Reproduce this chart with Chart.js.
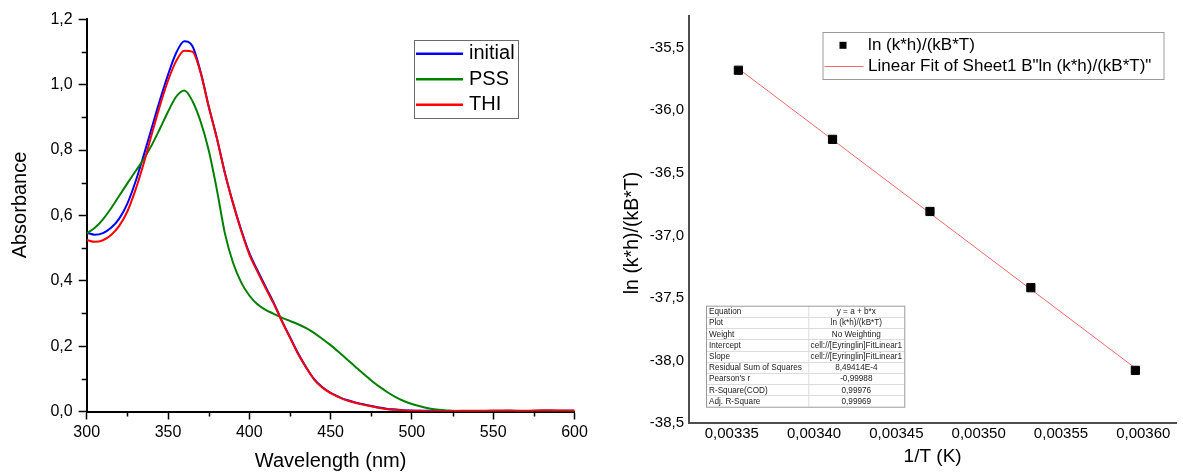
<!DOCTYPE html>
<html>
<head>
<meta charset="utf-8">
<title>Absorption spectra and Eyring plot</title>
<script src="https://cdn.jsdelivr.net/npm/chart.js@4.4.1/dist/chart.umd.min.js"></script>
<style>
  html, body { margin: 0; padding: 0; background: #fff; overflow: hidden; }
  #wrap { position: relative; width: 1183px; height: 473px; }
  canvas { position: absolute; top: 0; }
  #spec { left: 0; width: 600px; height: 473px; }
  #eyr { left: 600px; width: 583px; height: 473px; }
</style>
</head>
<body>
<div id="wrap">
  <canvas id="spec" width="600" height="473"></canvas>
  <canvas id="eyr" width="583" height="473"></canvas>
</div>
<script>
// ---------- Absorption spectra ----------
const wavelengths = [300, 305, 310, 315, 320, 325, 330, 335, 340, 345, 350, 355, 360, 365, 370, 375, 380, 385, 390, 395,
  400, 405, 410, 415, 420, 425, 430, 435, 440, 445, 450, 455, 460, 465, 470, 475, 480, 485, 490, 495,
  500, 505, 510, 515, 520, 530, 540, 550, 560, 570, 580, 590, 600];

const absInitial = [0.547, 0.541, 0.546, 0.562, 0.590, 0.636, 0.703, 0.783, 0.868, 0.952, 1.030, 1.097, 1.133, 1.118, 1.040, 0.935, 0.838, 0.730, 0.638, 0.556,
  0.485, 0.432, 0.382, 0.333, 0.278, 0.228, 0.178, 0.135, 0.098, 0.074, 0.057, 0.045, 0.035, 0.028, 0.022, 0.017, 0.012, 0.008, 0.006, 0.004,
  0.003, 0.002, 0.002, 0.001, 0.001, 0.001, 0.001, 0.001, 0.002, 0.001, 0.002, 0.002, 0.002];

const absPSS = [0.545, 0.562, 0.588, 0.622, 0.660, 0.698, 0.735, 0.772, 0.815, 0.865, 0.917, 0.963, 0.982, 0.950, 0.888, 0.800, 0.680, 0.545, 0.455, 0.395,
  0.355, 0.328, 0.311, 0.299, 0.287, 0.277, 0.267, 0.255, 0.240, 0.222, 0.203, 0.182, 0.160, 0.138, 0.116, 0.095, 0.076, 0.059, 0.044, 0.032,
  0.023, 0.016, 0.010, 0.006, 0.004, 0.001, 0.001, 0.001, 0.000, 0.001, 0.000, 0.001, 0.001];

const absTHI = [0.525, 0.519, 0.524, 0.540, 0.568, 0.612, 0.678, 0.758, 0.848, 0.935, 1.012, 1.072, 1.104, 1.101, 1.037, 0.933, 0.837, 0.729, 0.636, 0.553,
  0.481, 0.428, 0.378, 0.330, 0.276, 0.226, 0.176, 0.134, 0.097, 0.073, 0.056, 0.044, 0.034, 0.027, 0.021, 0.016, 0.011, 0.007, 0.005, 0.003,
  0.002, 0.002, 0.001, 0.001, 0.001, 0.002, 0.002, 0.003, 0.003, 0.002, 0.004, 0.003, 0.003];

const specXMajor = [300, 350, 400, 450, 500, 550, 600];
const specXMinor = [325, 375, 425, 475, 525, 575];
const specYMajor = [0, 0.2, 0.4, 0.6, 0.8, 1.0, 1.2];
const specYMinor = [0.1, 0.3, 0.5, 0.7, 0.9, 1.1];

// ---------- Eyring plot ----------
const invT = [0.003354, 0.0034112, 0.0034704, 0.0035317, 0.0035952];
const lnKhkT = [-35.680, -36.232, -36.808, -37.417, -38.077];
const fitInvT = [0.003354, 0.0035952];
const fitLn = [-35.667, -38.060];
const eyrXTicks = [0.00335, 0.00340, 0.00345, 0.00350, 0.00355, 0.00360];
const eyrYTicks = [-38.5, -38.0, -37.5, -37.0, -36.5, -36.0, -35.5];

const fitTableLabels = ['Equation', 'Plot', 'Weight', 'Intercept', 'Slope', 'Residual Sum of Squares', "Pearson's r", 'R-Square(COD)', 'Adj. R-Square'];
const fitTableValues = ['y = a + b*x', 'ln (k*h)/(kB*T)', 'No Weighting', 'cell://[Eyringlin]FitLinear1', 'cell://[Eyringlin]FitLinear1', '8,49414E-4', '-0,99988', '0,99976', '0,99969'];

const FONT = '"Liberation Sans", Arial, Helvetica, sans-serif';
Chart.defaults.font.family = FONT;
Chart.defaults.color = '#000';

const comma = (v, d) => v.toFixed(d).replace('.', ',');
const pairs = (xs, ys) => xs.map((x, i) => ({ x: x, y: ys[i] }));

// short outward minor ticks on both axes
const minorTicks = {
  id: 'minorTicks',
  afterDraw(chart, args, opts) {
    if (!opts.x) return;
    const { ctx } = chart;
    const xs = chart.scales.x, ys = chart.scales.y;
    ctx.save();
    ctx.strokeStyle = '#000';
    ctx.lineWidth = 1.5;
    ctx.beginPath();
    opts.x.forEach(v => {
      const px = Math.round(xs.getPixelForValue(v)) + 0.5;
      ctx.moveTo(px, xs.top);
      ctx.lineTo(px, xs.top + opts.len);
    });
    opts.y.forEach(v => {
      const py = Math.round(ys.getPixelForValue(v)) + 0.5;
      ctx.moveTo(ys.right, py);
      ctx.lineTo(ys.right - opts.len, py);
    });
    ctx.stroke();
    ctx.restore();
  }
};

// vertical axis title placed freely
const sideTitle = {
  id: 'sideTitle',
  afterDraw(chart, args, opts) {
    if (!opts.text) return;
    const { ctx } = chart;
    ctx.save();
    ctx.translate(opts.x, opts.y);
    ctx.rotate(-Math.PI / 2);
    ctx.font = opts.size + 'px ' + FONT;
    ctx.fillStyle = '#000';
    ctx.textAlign = 'center';
    ctx.textBaseline = 'middle';
    ctx.fillText(opts.text, 0, 0);
    ctx.restore();
  }
};

// boxed legend for the spectra
const spectraLegend = {
  id: 'spectraLegend',
  afterDraw(chart, args, opts) {
    if (!opts.box) return;
    const { ctx } = chart;
    const b = opts.box;
    ctx.save();
    ctx.fillStyle = '#fff';
    ctx.fillRect(b.x, b.y, b.w, b.h);
    ctx.strokeStyle = '#6a6a6a';
    ctx.lineWidth = 1;
    ctx.strokeRect(b.x + 0.5, b.y + 0.5, b.w, b.h);
    ctx.font = opts.size + 'px ' + FONT;
    ctx.textBaseline = 'middle';
    chart.data.datasets.forEach((ds, i) => {
      const y = b.y + opts.first + i * opts.step;
      ctx.strokeStyle = ds.borderColor;
      ctx.lineWidth = 2.5;
      ctx.beginPath();
      ctx.moveTo(b.x + 2, y);
      ctx.lineTo(b.x + 49, y);
      ctx.stroke();
      ctx.fillStyle = '#000';
      ctx.fillText(ds.label, b.x + 55, y);
    });
    ctx.restore();
  }
};

new Chart(document.getElementById('spec'), {
  type: 'scatter',
  data: {
    datasets: [
      { label: 'initial', data: pairs(wavelengths, absInitial), borderColor: '#0000ff', order: 3 },
      { label: 'PSS', data: pairs(wavelengths, absPSS), borderColor: '#008000', order: 2 },
      { label: 'THI', data: pairs(wavelengths, absTHI), borderColor: '#ff0000', order: 1 }
    ].map(ds => Object.assign(ds, {
      showLine: true, pointRadius: 0, borderWidth: 2, fill: false,
      cubicInterpolationMode: 'monotone', backgroundColor: ds.borderColor
    }))
  },
  options: {
    responsive: false,
    animation: false,
    events: [],
    layout: { padding: { left: 0, right: 25.5, top: 19.3, bottom: 0 } },
    plugins: {
      legend: { display: false },
      tooltip: { enabled: false },
      minorTicks: { x: specXMinor, y: specYMinor, len: 5 },
      sideTitle: { text: 'Absorbance', x: 20.7, y: 205, size: 20 },
      spectraLegend: { box: { x: 414, y: 40, w: 104, h: 78 }, first: 13.7, step: 25.5, size: 20 }
    },
    scales: {
      x: {
        type: 'linear', min: 300, max: 600,
        afterBuildTicks: s => { s.ticks = specXMajor.map(v => ({ value: v })); },
        afterFit: s => { s.height = 61.5; },
        ticks: { font: { size: 16 }, padding: 3, maxRotation: 0, autoSkip: false, callback: v => String(v) },
        grid: { display: true, drawOnChartArea: false, drawTicks: true, tickLength: 8, color: '#000', tickWidth: 1.5 },
        border: { display: true, color: '#000', width: 2 },
        title: { display: true, text: 'Wavelength (nm)', font: { size: 20 }, padding: { top: 0, bottom: 0 } }
      },
      y: {
        type: 'linear', min: 0, max: 1.2,
        afterBuildTicks: s => { s.ticks = specYMajor.map(v => ({ value: v })); },
        afterFit: s => { s.width = 86.7; },
        ticks: { font: { size: 16 }, padding: 6, autoSkip: false, callback: v => comma(v, 1) },
        grid: { display: true, drawOnChartArea: false, drawTicks: true, tickLength: 8, color: '#000', tickWidth: 1.5 },
        border: { display: true, color: '#000', width: 2 }
      }
    }
  },
  plugins: [minorTicks, sideTitle, spectraLegend]
});

// legend and fit-results table for the Eyring plot
const eyringExtras = {
  id: 'eyringExtras',
  afterDraw(chart, args, opts) {
    if (!opts.legend) return;
    const { ctx } = chart;
    const L = opts.legend;
    ctx.save();
    ctx.fillStyle = '#fff';
    ctx.fillRect(L.x, L.y, L.w, L.h);
    ctx.strokeStyle = '#9a9a9a';
    ctx.lineWidth = 1;
    ctx.strokeRect(L.x + 0.5, L.y + 0.5, L.w, L.h);
    const [pts, fit] = chart.data.datasets;
    ctx.font = L.size + 'px ' + FONT;
    ctx.textBaseline = 'middle';
    ctx.fillStyle = '#000';
    const y1 = L.y + L.row1, y2 = L.y + L.row2;
    ctx.fillRect(L.x + 17, y1 - 3.5, 7, 7);
    ctx.fillText(pts.label, L.x + 45.6, y1);
    ctx.strokeStyle = fit.borderColor;
    ctx.beginPath();
    ctx.moveTo(L.x + 2, Math.round(y2) + 0.5);
    ctx.lineTo(L.x + 41, Math.round(y2) + 0.5);
    ctx.stroke();
    ctx.fillText(fit.label, L.x + 45.6, y2);

    const T = opts.table;
    const rowH = T.h / fitTableLabels.length;
    ctx.fillStyle = '#fff';
    ctx.fillRect(T.x, T.y, T.w, T.h);
    ctx.strokeStyle = '#dcdcdc';
    ctx.beginPath();
    for (let i = 1; i < fitTableLabels.length; i++) {
      const y = Math.round(T.y + i * rowH) + 0.5;
      ctx.moveTo(T.x, y);
      ctx.lineTo(T.x + T.w, y);
    }
    ctx.moveTo(T.x + T.col + 0.5, T.y);
    ctx.lineTo(T.x + T.col + 0.5, T.y + T.h);
    ctx.stroke();
    ctx.strokeStyle = '#9a9a9a';
    ctx.strokeRect(T.x + 0.5, T.y + 0.5, T.w, T.h);
    ctx.font = T.size + 'px ' + FONT;
    ctx.fillStyle = '#222';
    fitTableLabels.forEach((t, i) => {
      const y = T.y + (i + 0.5) * rowH + 0.5;
      ctx.textAlign = 'left';
      ctx.fillText(t, T.x + 3, y);
      ctx.textAlign = 'center';
      ctx.fillText(fitTableValues[i], T.x + T.col + (T.w - T.col) / 2, y);
    });
    ctx.restore();
  }
};

new Chart(document.getElementById('eyr'), {
  type: 'scatter',
  data: {
    datasets: [
      {
        label: 'ln (k*h)/(kB*T)', data: pairs(invT, lnKhkT),
        pointStyle: 'rect', pointRadius: 5.8, borderWidth: 1,
        backgroundColor: '#000', borderColor: '#000', showLine: false
      },
      {
        label: 'Linear Fit of Sheet1 B"ln (k*h)/(kB*T)"', data: pairs(fitInvT, fitLn),
        showLine: true, pointRadius: 0, borderWidth: 1, borderColor: '#f06a6a', fill: false
      }
    ]
  },
  options: {
    responsive: false,
    animation: false,
    events: [],
    layout: { padding: { left: 0, right: 0, top: 16.4, bottom: 0 } },
    plugins: {
      legend: { display: false },
      tooltip: { enabled: false },
      sideTitle: { text: 'ln (k*h)/(kB*T)', x: 33, y: 233, size: 19.5 },
      eyringExtras: {
        legend: { x: 222.5, y: 32, w: 341, h: 47, row1: 13.3, row2: 34, size: 17 },
        table: { x: 106, y: 305.7, w: 198.3, h: 101, col: 102.3, size: 8.2 }
      }
    },
    scales: {
      x: {
        type: 'linear', min: 0.003324, max: 0.00362,
        afterBuildTicks: s => { s.ticks = eyrXTicks.map(v => ({ value: v })); },
        afterFit: s => { s.height = 49.7; },
        ticks: { font: { size: 15 }, padding: 1.5, maxRotation: 0, autoSkip: false, callback: v => comma(v, 5) },
        grid: { display: false, drawTicks: false },
        border: { display: true, color: '#4d4d4d', width: 2 },
        title: { display: true, text: '1/T (K)', font: { size: 19 }, padding: { top: 0, bottom: 5.3 } }
      },
      y: {
        type: 'linear', min: -38.5, max: -35.25,
        afterBuildTicks: s => { s.ticks = eyrYTicks.map(v => ({ value: v })); },
        afterFit: s => { s.width = 89; },
        ticks: { font: { size: 15 }, padding: 5, autoSkip: false, callback: v => comma(v, 1) },
        grid: { display: false, drawTicks: false },
        border: { display: true, color: '#4d4d4d', width: 2 }
      }
    }
  },
  plugins: [sideTitle, eyringExtras]
});
</script>
</body>
</html>
